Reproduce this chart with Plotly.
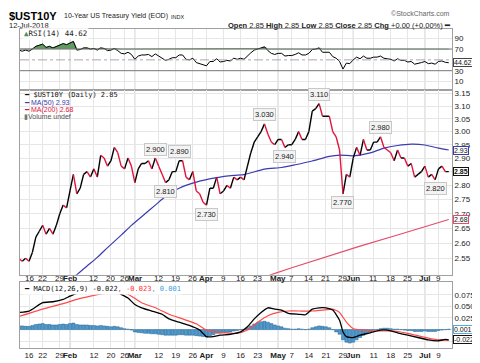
import numpy as np
import pandas as pd
import plotly.graph_objects as go
from plotly.subplots import make_subplots

# ---------------- data ----------------
HOLIDAYS = ["2018-01-15", "2018-02-19", "2018-03-30", "2018-05-28", "2018-07-04"]
trade_days = [d.strftime("%Y-%m-%d") for d in pd.bdate_range("2018-01-10", "2018-07-12")
              if d.strftime("%Y-%m-%d") not in HOLIDAYS]

close = [
    2.55, 2.54, 2.55, 2.54, 2.57, 2.62, 2.64, 2.66, 2.63, 2.65, 2.63, 2.66, 2.70, 2.73, 2.72,          # Jan
    2.78, 2.84, 2.77, 2.79, 2.84, 2.85, 2.83, 2.86, 2.83, 2.91, 2.90, 2.87, 2.89, 2.94, 2.92, 2.87,
    2.86, 2.90, 2.87,                                                                                  # Feb
    2.81, 2.86, 2.88, 2.88, 2.89, 2.86, 2.90, 2.87, 2.84, 2.81, 2.82, 2.85, 2.85, 2.89, 2.89, 2.83,
    2.82, 2.85, 2.78, 2.77, 2.74,                                                                      # Mar
    2.73, 2.79, 2.79, 2.83, 2.77, 2.78, 2.80, 2.79, 2.83, 2.82, 2.83, 2.82, 2.87, 2.92, 2.96, 2.98,
    3.00, 3.03, 2.99, 2.96, 2.95,                                                                      # Apr
    2.97, 2.97, 2.94, 2.95, 2.95, 2.97, 3.00, 2.97, 2.97, 3.00, 3.08, 3.09, 3.11, 3.06, 3.06, 3.06,
    3.00, 2.98, 2.93, 2.77, 2.84, 2.83,                                                                # May
    2.90, 2.94, 2.91, 2.97, 2.93, 2.93, 2.96, 2.96, 2.98, 2.94, 2.93, 2.92, 2.89, 2.93, 2.90, 2.90,
    2.87, 2.88, 2.83, 2.84, 2.85,                                                                      # Jun
    2.87, 2.83, 2.84, 2.82, 2.86, 2.87, 2.85, 2.85,                                                    # Jul
]

rsi14 = [
    68, 66, 68, 66, 70, 75, 77, 79, 73, 75, 72, 75, 78, 80, 78,
    81, 84, 68, 69, 72, 72, 70, 71, 68, 72, 71, 67, 68, 71, 67, 62, 61, 64, 60,
    51, 57, 59, 59, 60, 56, 61, 57, 53, 49, 51, 54, 54, 59, 59, 51, 50, 53, 45, 43, 40,
    39, 47, 47, 52, 46, 47, 49, 48, 53, 51, 53, 51, 58, 63, 68, 70, 71, 74, 67, 62, 60,
    62, 62, 57, 58, 58, 60, 63, 59, 59, 62, 69, 70, 72, 64, 64, 64, 56, 53, 47, 33, 44, 43,
    50, 55, 52, 57, 53, 53, 55, 55, 57, 53, 52, 51, 48, 52, 49, 49, 46, 47, 42, 43, 45,
    47, 43, 44, 42, 47, 48, 45.5, 44.62,
]

macd_hist = [
    0.008, 0.008, 0.007, 0.007, 0.009, 0.011, 0.012, 0.013, 0.011, 0.011, 0.010, 0.010, 0.011, 0.012, 0.011,
    0.013, 0.014, 0.011, 0.010, 0.010, 0.010, 0.009, 0.009, 0.008, 0.009, 0.008, 0.007, 0.006, 0.007, 0.006,
    0.004, 0.002, 0.001, -0.001,
    -0.005, -0.006, -0.007, -0.008, -0.008, -0.009, -0.009, -0.010, -0.011, -0.012, -0.012, -0.012, -0.012,
    -0.011, -0.011, -0.012, -0.012, -0.012, -0.013, -0.014, -0.015,
    -0.016, -0.013, -0.011, -0.008, -0.008, -0.007, -0.006, -0.005, -0.003, -0.002, 0.000, 0.001,
    0.004, 0.008, 0.012, 0.015, 0.017, 0.018, 0.016, 0.013, 0.010,
    0.008, 0.006, 0.003, 0.002, 0.001, 0.001, 0.002, 0.001, 0.000,
    0.001, 0.004, 0.006, 0.008, 0.007, 0.006, 0.004, 0.000, -0.005, -0.010,
    -0.022, -0.027, -0.029, -0.027, -0.022, -0.017, -0.012, -0.008, -0.005, -0.002,
    0.000, 0.002, 0.003, 0.003, 0.002, 0.001, 0.001, 0.000, -0.001, -0.002,
    -0.002, -0.004, -0.004, -0.004, -0.003, -0.004, -0.004, -0.004, -0.002, -0.001, 0.000, 0.001,
]

ma50_dates = ["2018-02-02", "2018-02-05", "2018-02-08", "2018-02-13", "2018-02-16", "2018-02-23",
              "2018-02-28", "2018-03-06", "2018-03-09", "2018-03-14", "2018-03-20", "2018-03-27",
              "2018-04-05", "2018-04-12", "2018-04-17", "2018-04-25", "2018-05-02", "2018-05-08",
              "2018-05-15", "2018-05-22", "2018-05-25", "2018-06-01", "2018-06-08", "2018-06-14",
              "2018-06-20", "2018-06-26", "2018-07-02", "2018-07-09", "2018-07-12"]
ma50_vals = [2.490, 2.497, 2.525, 2.553, 2.585, 2.627, 2.660, 2.700, 2.730, 2.760, 2.790, 2.812,
             2.828, 2.836, 2.839, 2.859, 2.865, 2.875, 2.889, 2.906, 2.911, 2.908, 2.919, 2.937,
             2.947, 2.952, 2.949, 2.937, 2.930]

ma200_dates = ["2018-04-25", "2018-04-27", "2018-05-07", "2018-05-21", "2018-06-05", "2018-06-19",
               "2018-07-03", "2018-07-12"]
ma200_vals = [2.488, 2.497, 2.519, 2.555, 2.590, 2.624, 2.659, 2.680]

macd_dates = ["2018-01-10", "2018-01-16", "2018-01-22", "2018-01-25", "2018-01-30", "2018-02-01",
              "2018-02-05", "2018-02-09", "2018-02-15", "2018-02-21", "2018-02-23", "2018-02-27",
              "2018-03-01", "2018-03-05", "2018-03-08", "2018-03-13", "2018-03-15", "2018-03-20",
              "2018-03-23", "2018-03-28", "2018-04-02", "2018-04-04", "2018-04-06", "2018-04-11",
              "2018-04-16", "2018-04-18", "2018-04-20", "2018-04-24", "2018-04-26", "2018-04-30",
              "2018-05-02", "2018-05-04", "2018-05-09", "2018-05-11", "2018-05-15", "2018-05-17",
              "2018-05-21", "2018-05-23", "2018-05-25", "2018-05-29", "2018-05-30", "2018-06-01",
              "2018-06-05", "2018-06-08", "2018-06-13", "2018-06-15", "2018-06-20", "2018-06-25",
              "2018-06-28", "2018-07-03", "2018-07-09", "2018-07-11", "2018-07-12"]
macd_vals = [0.037, 0.040, 0.058, 0.060, 0.065, 0.072, 0.078, 0.082, 0.085, 0.084, 0.076, 0.068,
             0.054, 0.047, 0.040, 0.033, 0.023, 0.016, 0.009, -0.001, -0.015, -0.015, -0.012, -0.010,
             -0.005, 0.006, 0.023, 0.037, 0.047, 0.044, 0.042, 0.035, 0.033, 0.032, 0.044, 0.047,
             0.047, 0.042, 0.020, -0.005, -0.015, -0.017, -0.012, -0.007, -0.001, -0.001, -0.007,
             -0.012, -0.017, -0.022, -0.024, -0.021, -0.022]

signal_dates = ["2018-01-10", "2018-01-22", "2018-01-30", "2018-02-05", "2018-02-09", "2018-02-15",
                "2018-02-21", "2018-02-23", "2018-02-28", "2018-03-05", "2018-03-09", "2018-03-15",
                "2018-03-21", "2018-03-27", "2018-04-02", "2018-04-04", "2018-04-10", "2018-04-13",
                "2018-04-18", "2018-04-23", "2018-04-26", "2018-05-01", "2018-05-04", "2018-05-10",
                "2018-05-15", "2018-05-18", "2018-05-23", "2018-05-25", "2018-05-30", "2018-06-01",
                "2018-06-06", "2018-06-13", "2018-06-19", "2018-06-25", "2018-06-29", "2018-07-06",
                "2018-07-12"]
signal_vals = [0.028, 0.044, 0.056, 0.065, 0.072, 0.078, 0.082, 0.082, 0.072, 0.058, 0.047, 0.033,
               0.023, 0.0125, -0.001, -0.005, -0.007, -0.008, -0.001, 0.016, 0.030, 0.037, 0.040,
               0.040, 0.040, 0.042, 0.044, 0.037, 0.016, 0.002, -0.001, -0.003, -0.003, -0.008,
               -0.015, -0.021, -0.023]

tick_dates = ["2018-01-16", "2018-01-22", "2018-01-29", "2018-02-01", "2018-02-12", "2018-02-20",
              "2018-02-26", "2018-03-01", "2018-03-12", "2018-03-19", "2018-03-26", "2018-04-02",
              "2018-04-09", "2018-04-16", "2018-04-23", "2018-05-01", "2018-05-07", "2018-05-14",
              "2018-05-21", "2018-05-29", "2018-06-01", "2018-06-11", "2018-06-18", "2018-06-25",
              "2018-07-02", "2018-07-09"]
tick_labels = ["16", "22", "29", "Feb", "12", "20", "26", "Mar", "12", "19", "26", "Apr", "9", "16",
               "23", "May", "7", "14", "21", "29", "Jun", "11", "18", "25", "Jul", "9"]
month_names = ["Feb", "Mar", "Apr", "May", "Jun", "Jul"]

peak_dates = ["2018-03-09", "2018-03-20", "2018-04-25", "2018-05-17", "2018-06-13"]
trough_dates = ["2018-03-14", "2018-04-02", "2018-05-03", "2018-05-29", "2018-07-06"]

price_ticks = [2.55, 2.60, 2.65, 2.70, 2.75, 2.80, 2.85, 2.90, 2.95, 3.00, 3.05, 3.10, 3.15]

# ---------------- helpers ----------------
pos = {d: i for i, d in enumerate(trade_days)}
n = len(trade_days)
idx = list(range(n))

W, H = 480, 363
ML, MR, MT, MB = 11, 36, 21, 11
PW, PH = W - ML - MR, H - MT - MB


def fx(px):
    return (px - ML) / PW


def fy(py):
    return (H - MB - py) / PH


BLACK = "#000000"
RED = "#e0143c"
BLUE = "#3b3bb0"
PINK = "#e24d6c"
GRID = "#e6e6e6"
MONTHGRID = "#c4c4c4"
FONT = "Liberation Sans, Arial, sans-serif"
MONO = "DejaVu Sans Mono, monospace"

fig = make_subplots(rows=3, cols=1, shared_xaxes=True)

# ---- RSI panel ----
fig.add_trace(go.Scatter(x=idx, y=[70] * n, mode="lines", line=dict(width=0),
                         hoverinfo="skip", showlegend=False), row=1, col=1)
fig.add_trace(go.Scatter(x=idx, y=np.maximum(np.array(rsi14, dtype=float), 70), mode="lines",
                         line=dict(width=0.6, color="#3f6f3f"), fill="tonexty",
                         fillcolor="rgba(88,150,88,0.95)", showlegend=False), row=1, col=1)
fig.add_trace(go.Scatter(x=idx, y=rsi14, mode="lines", line=dict(color=BLACK, width=1),
                         showlegend=False), row=1, col=1)

# ---- Price panel ----
fig.add_trace(go.Scatter(x=[pos[d] for d in ma200_dates], y=ma200_vals, mode="lines",
                         line=dict(color=PINK, width=1.2), showlegend=False), row=2, col=1)
fig.add_trace(go.Scatter(x=[pos[d] for d in ma50_dates], y=ma50_vals, mode="lines",
                         line=dict(color=BLUE, width=1.2, shape="spline", smoothing=0.6),
                         showlegend=False), row=2, col=1)
up_x, up_y, dn_x, dn_y = [], [], [], []
for i in range(1, n):
    tx, ty = (up_x, up_y) if close[i] >= close[i - 1] else (dn_x, dn_y)
    tx.extend([i - 1, i, None])
    ty.extend([close[i - 1], close[i], None])
fig.add_trace(go.Scatter(x=up_x, y=up_y, mode="lines", line=dict(color=BLACK, width=1.4),
                         showlegend=False), row=2, col=1)
fig.add_trace(go.Scatter(x=dn_x, y=dn_y, mode="lines", line=dict(color=RED, width=1.4),
                         showlegend=False), row=2, col=1)

# ---- MACD panel ----
fig.add_trace(go.Bar(x=idx, y=macd_hist, marker=dict(color="#4e9bd0", line=dict(color="#22618f", width=0.5)),
                     showlegend=False), row=3, col=1)
fig.add_trace(go.Scatter(x=[pos[d] for d in signal_dates], y=signal_vals, mode="lines",
                         line=dict(color="#ff4a4a", width=1.2, shape="spline", smoothing=0.5),
                         showlegend=False), row=3, col=1)
fig.add_trace(go.Scatter(x=[pos[d] for d in macd_dates], y=macd_vals, mode="lines",
                         line=dict(color=BLACK, width=1.3, shape="spline", smoothing=0.5),
                         showlegend=False), row=3, col=1)

# ---------------- axes ----------------
tickvals = [pos[d] for d in tick_dates]
ticktext = [f"<b>{t}</b>" if t in month_names else t for t in tick_labels]
xcommon = dict(range=[0.35, n - 0.05], tickvals=tickvals, ticktext=ticktext, tickangle=0,
               showgrid=True, gridcolor=GRID, gridwidth=1, zeroline=False, showline=True,
               mirror=True, linecolor="#a0a0a0", linewidth=1, ticks="",
               tickfont=dict(family=FONT, size=8, color="#222"))
fig.update_xaxes(**xcommon)
fig.update_xaxes(showticklabels=False, row=1, col=1)
fig.update_xaxes(showticklabels=False, row=2, col=1)
fig.update_xaxes(showticklabels=True, ticklabelstandoff=-1, row=3, col=1)

ycommon = dict(side="right", showgrid=True, gridcolor=GRID, zeroline=False, showline=True,
               mirror=True, linecolor="#a0a0a0", ticks="", tickfont=dict(family=FONT, size=8, color="#222"))
fig.update_yaxes(**ycommon)
fig.update_yaxes(range=[-5.6, 106.9], tickvals=[10, 30, 70, 90], ticktext=["10", "30", "70", "90"],
                 row=1, col=1)
# the 2.85 tick label sits exactly under the last-close tag, so it is left blank
fig.update_yaxes(type="log", range=[np.log10(2.4966), np.log10(3.1646)], tickvals=price_ticks,
                 ticktext=["" if abs(v - close[-1]) < 1e-9 else f"{v:.2f}" for v in price_ticks],
                 row=2, col=1)
fig.update_yaxes(range=[-0.0396, 0.1015], tickvals=[-0.025, 0, 0.025, 0.05, 0.075],
                 ticktext=["", "", "0.025", "0.050", "0.075"], row=3, col=1)

fig.update_layout(
    yaxis=dict(domain=[fy(84.3), 1.0]),
    yaxis2=dict(domain=[fy(276), fy(84.3)]),
    yaxis3=dict(domain=[0.0, fy(284)]),
    width=W, height=H, margin=dict(l=ML, r=MR, t=MT, b=MB),
    plot_bgcolor="white", paper_bgcolor="white", bargap=0.12, showlegend=False,
    font=dict(family=FONT, size=8, color="#222"),
)

# ---------------- shapes ----------------
shapes = []
for t, d in zip(tick_labels, tick_dates):
    if t in month_names:
        for ax in ("y", "y2", "y3"):
            xr = {"y": "x", "y2": "x2", "y3": "x3"}[ax]
            shapes.append(dict(type="line", xref=xr, yref=f"{ax} domain", x0=pos[d], x1=pos[d],
                               y0=0, y1=1, line=dict(color=MONTHGRID, width=1), layer="below"))
for lvl in (70, 30):
    shapes.append(dict(type="line", xref="x domain", yref="y", x0=0, x1=1, y0=lvl, y1=lvl,
                       line=dict(color="#7a7a7a", width=1)))
shapes.append(dict(type="line", xref="x domain", yref="y", x0=0, x1=1, y0=50, y1=50,
                   line=dict(color="#aaaaaa", width=1, dash="dashdot")))
fig.update_layout(shapes=shapes)

# ---------------- annotations ----------------
ann = []


def text(x, y, s, size=8, color="#222", family=FONT, xanchor="left", yanchor="middle", **kw):
    ann.append(dict(xref="paper", yref="paper", x=fx(x), y=fy(y), text=s, showarrow=False,
                    xanchor=xanchor, yanchor=yanchor, font=dict(size=size, color=color, family=family), **kw))


# header
text(0, 7.5, "<b>$UST10Y</b>", size=11, color="#000", xshift=-2)
text(53, 8, "10-Year US Treasury Yield (EOD)", size=7, color="#222")
text(160, 8.5, "INDX", size=5.5, color="#222")
text(0, 17.5, "12-Jul-2018", size=7.5, color="#222", xshift=-2)
text(445, 17, "<b>Open</b> 2.85 <b>High</b> 2.85 <b>Low</b> 2.85 <b>Close</b> 2.85 "
              "<b>Chg</b> +0.00 (+0.00%) <b>━</b>", size=7.5, color="#222", xanchor="right")
text(444, 5, "©StockCharts.com", size=7, color="#666", xanchor="right")

# RSI legend
text(13, 25.5, "<span style='color:#4f8f4f'>▲</span>RSI(14) 44.62", size=7.5, family=MONO, color="#222",
     bgcolor="rgba(255,255,255,0.85)")

# price legends
text(13, 90, "━ $UST10Y (Daily) 2.85", size=7, family=MONO, color="#111")
text(13, 97.4, "<span style='color:#3b3bb0'>━</span> MA(50) 2.93", size=7, color=BLUE)
text(13, 104.7, "<span style='color:#e0143c'>━</span> MA(200) 2.68", size=7, color=RED)
text(13, 112, "<span style='color:#777'>▮</span>Volume undef", size=7, color="#555")

# date labels under the price panel (same tick positions as the axis)
for tv, tt in zip(tickvals, ticktext):
    ann.append(dict(xref="x2", yref="paper", x=tv, y=fy(280), text=tt, showarrow=False,
                    xanchor="center", yanchor="middle", font=dict(size=8, color="#222", family=FONT)))

# MACD legend
text(13, 291, "━ MACD(12,26,9) -0.022<span style='color:#ff3030'>, -0.023</span>"
              "<span style='color:#3aa0e0'>, 0.001</span>", size=7, family=MONO, color="#111",
     bgcolor="white")

# peak / trough value labels
for d in peak_dates + trough_dates:
    v = close[pos[d]]
    is_peak = d in peak_dates
    ann.append(dict(xref="x2", yref="y2", x=pos[d], y=np.log10(v), text=f"{v:.3f}", showarrow=False,
                    yshift=9 if is_peak else -9, font=dict(size=7.5, color="#222", family=FONT),
                    bgcolor="#f3f3f3", bordercolor="#c8c8c8", borderwidth=1, borderpad=1))


# right-side value tags
def tag(yref, yval, s, border):
    ann.append(dict(xref="paper", yref=yref, x=1.0, y=yval, text=s, showarrow=False, xanchor="left",
                    xshift=1, font=dict(size=7, color="#111", family=FONT), bgcolor="white",
                    bordercolor=border, borderwidth=1, borderpad=0))


tag("y", 44.62, "44.62", "#444")
tag("y2", np.log10(2.93), "2.93", BLUE)
tag("y2", np.log10(2.68), "2.68", PINK)
tag("y2", np.log10(close[-1]), "<b>2.85</b>", "#111")
tag("y3", 0.001, "0.001", "#5aa8e0")
tag("y3", -0.022, "-0.022", "#111")

fig.update_layout(annotations=ann)
fig.write_html("out.html")
